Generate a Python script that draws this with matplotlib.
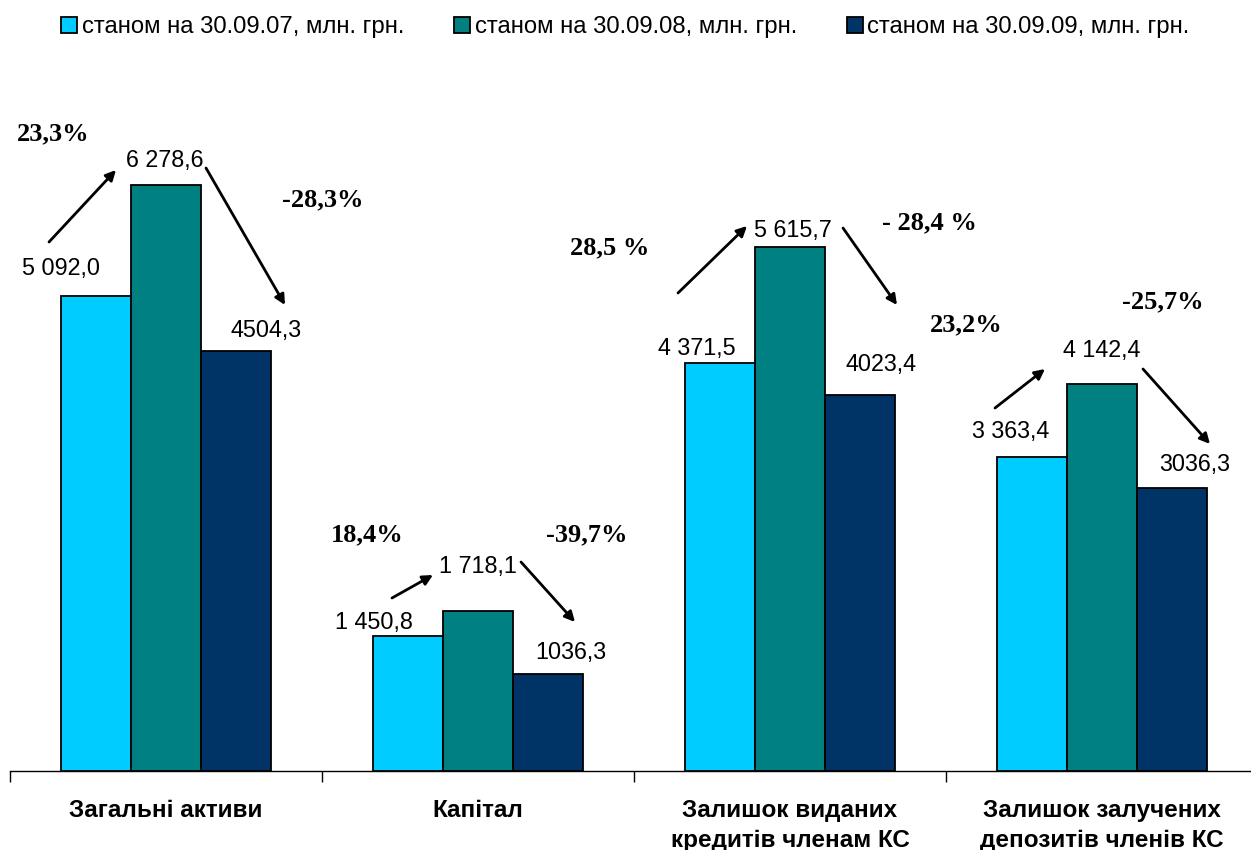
import matplotlib
matplotlib.use("Agg")
import matplotlib.pyplot as plt
from matplotlib.patches import Patch
import numpy as np

# ---- data ----
categories = ["Загальні активи", "Капітал",
              "Залишок виданих\nкредитів членам КС",
              "Залишок залучених\nдепозитів членів КС"]
series_names = ["станом на 30.09.07, млн. грн.",
                "станом на 30.09.08, млн. грн.",
                "станом на 30.09.09, млн. грн."]
v2007 = [5092.0, 1450.8, 4371.5, 3363.4]
v2008 = [6278.6, 1718.1, 5615.7, 4142.4]
v2009 = [4504.3, 1036.3, 4023.4, 3036.3]
value_labels = [["5 092,0", "6 278,6", "4504,3"],
                ["1 450,8", "1 718,1", "1036,3"],
                ["4 371,5", "5 615,7", "4023,4"],
                ["3 363,4", "4 142,4", "3036,3"]]
growth_labels = ["23,3%", "18,4%", "28,5 %", "23,2%"]
decline_labels = ["-28,3%", "-39,7%", "- 28,4 %", "-25,7%"]

colors = ["#00CCFF", "#008080", "#003366"]

# ---- layout (pixel positions in the 1251x850 figure) ----
W, H = 1251, 850
def fp(x, y):
    return (x / W, 1 - y / H)

value_pos = [[(61, 268), (165, 161), (266, 330)],
             [(374, 623), (478, 566), (571, 652)],
             [(697, 348), (793, 231), (881, 364)],
             [(1011, 432), (1102, 350), (1195, 464)]]
growth_pos = [(53, 134), (367, 535), (610, 248), (966, 325)]
decline_pos = [(323, 200), (587, 535), (929, 223), (1163, 302)]
up_arrows = [((49, 242), (116, 170)), ((392, 598), (433, 575)),
             ((678, 293), (747, 226)), ((995, 408), (1045, 369))]
down_arrows = [((206, 168), (285, 305)), ((521, 562), (575, 622)),
               ((843, 228), (897, 305)), ((1143, 369), (1210, 444))]

plt.rcParams['font.family'] = ['Liberation Sans', 'DejaVu Sans']

fig = plt.figure(figsize=(12.51, 8.5), dpi=100)
ax_left, ax_right = 10 / W, 1258 / W
ax_bottom, ax_top = 1 - 771 / H, 1 - 99 / H
ax = fig.add_axes([ax_left, ax_bottom, ax_right - ax_left, ax_top - ax_bottom])

x = np.arange(len(categories))
bw = 0.224
for k, vals in enumerate([v2007, v2008, v2009]):
    ax.bar(x + (k - 1) * bw, vals, width=bw, color=colors[k],
           edgecolor="black", linewidth=1.3, label=series_names[k], zorder=3)

ax.set_xlim(-0.5, 3.5)
ax.set_ylim(0, 7200)
for s in ["top", "right", "left"]:
    ax.spines[s].set_visible(False)
ax.spines["bottom"].set_linewidth(1.0)
ax.set_yticks([])
ax.set_xticks(x)
ax.set_xticklabels(categories, fontsize=17.5, fontweight="bold",
                   linespacing=1.38)
ax.tick_params(axis="x", which="major", length=0, pad=20)
ax.set_xticks(np.arange(-0.5, 4.0, 1.0), minor=True)
ax.tick_params(axis="x", which="minor", length=8, width=1.0, direction="out")

for i in range(4):
    for k in range(3):
        fig.text(*fp(*value_pos[i][k]), value_labels[i][k], fontsize=16.8,
                 ha="center", va="center")
    fig.text(*fp(*growth_pos[i]), growth_labels[i], fontsize=19,
             fontweight="bold", family="Liberation Serif",
             ha="center", va="center")
    fig.text(*fp(*decline_pos[i]), decline_labels[i], fontsize=19,
             fontweight="bold", family="Liberation Serif",
             ha="center", va="center")
    for (p0, p1) in (up_arrows[i], down_arrows[i]):
        ax.annotate("", xy=fp(*p1), xytext=fp(*p0),
                    xycoords="figure fraction", textcoords="figure fraction",
                    arrowprops=dict(arrowstyle="-|>,head_length=0.6,head_width=0.3",
                                    color="black", lw=2.0, shrinkA=0, shrinkB=0))

handles = [Patch(facecolor=c, edgecolor="black", linewidth=1.3) for c in colors]
fig.legend(handles, series_names, loc="center", bbox_to_anchor=(0.5, 1 - 27 / H),
           ncol=3, frameon=False, fontsize=17.2, handlelength=0.65,
           handleheight=0.65, handletextpad=0.2, columnspacing=2.1)

fig.savefig("out.png", dpi=100)
